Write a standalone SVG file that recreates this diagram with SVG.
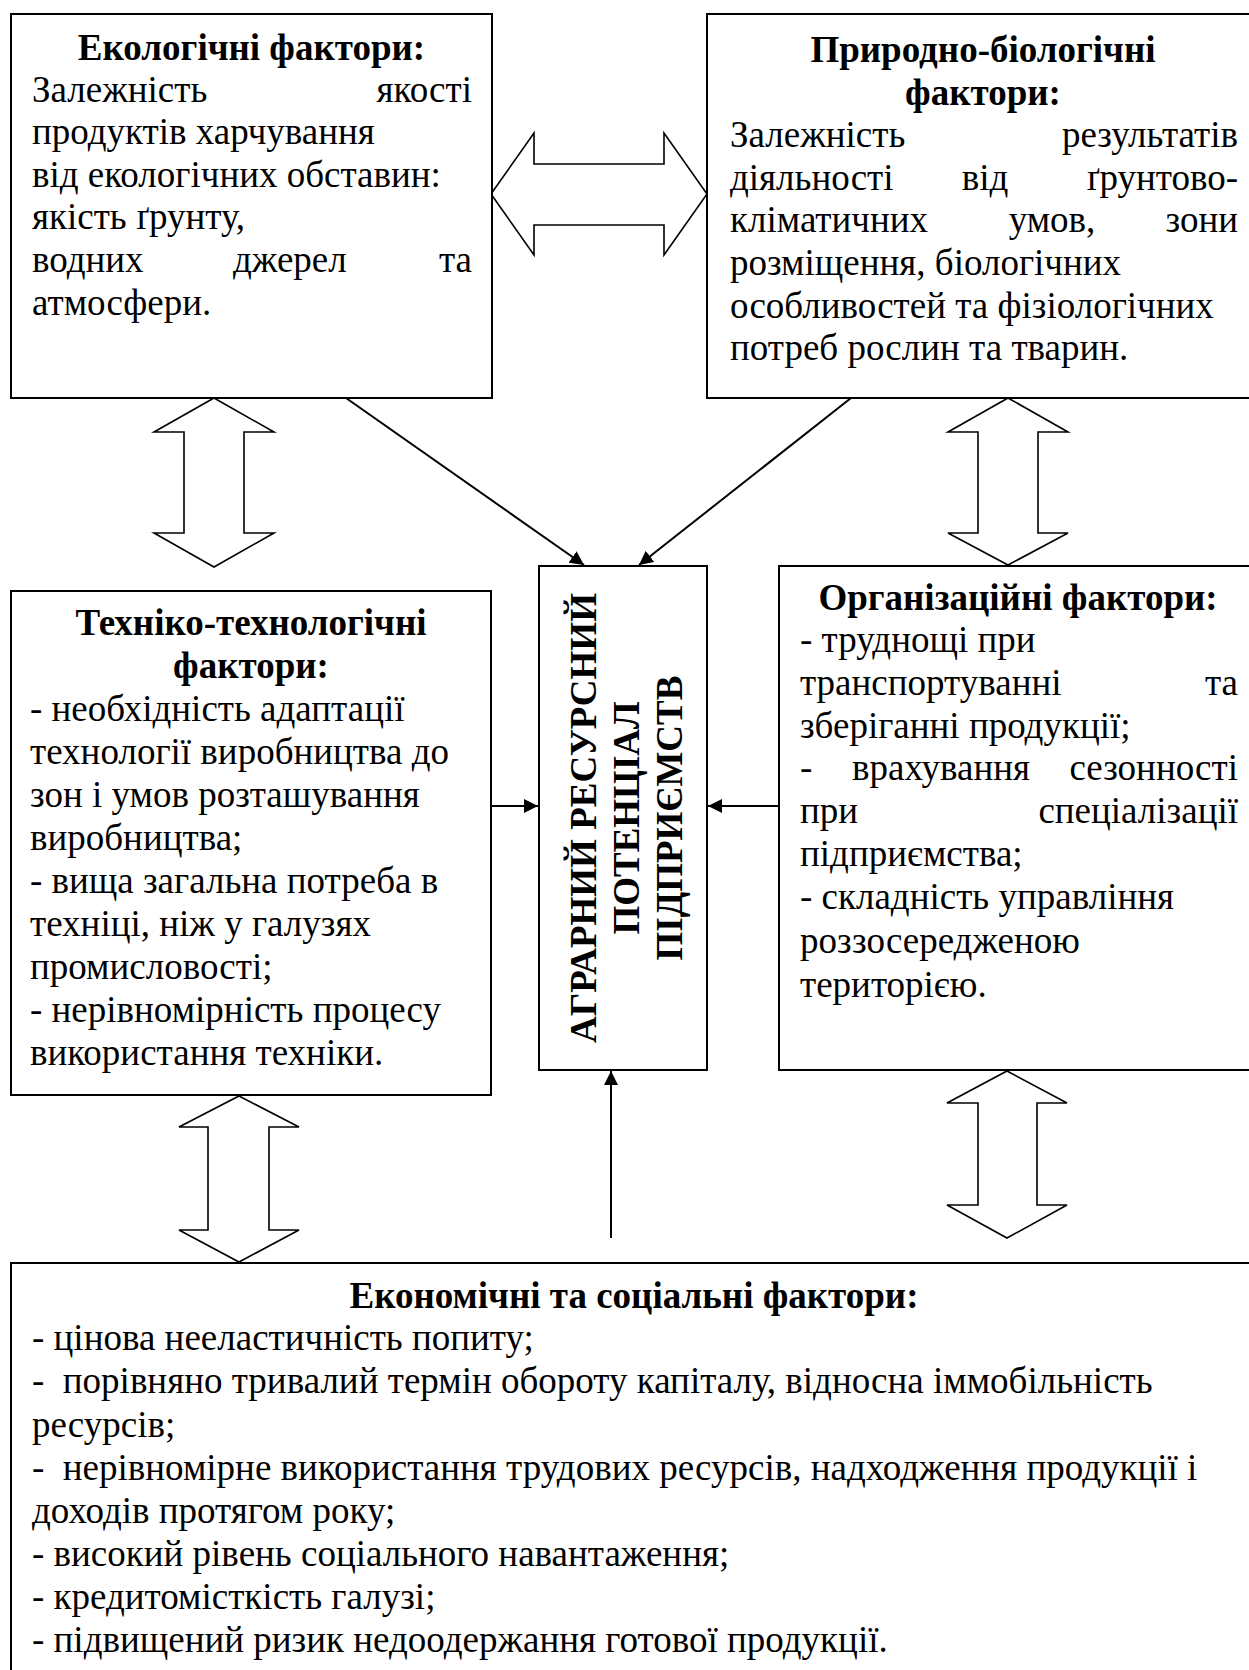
<svg xmlns="http://www.w3.org/2000/svg" width="1249" height="1670" viewBox="0 0 1249 1670">
<defs>
<style>
.box{fill:#fff;stroke:#000;stroke-width:2}
.blk{fill:#fff;stroke:#000;stroke-width:1.6;stroke-linejoin:miter}
.ln{fill:none;stroke:#000;stroke-width:2}
text{font-family:"Liberation Serif","Times New Roman",serif;font-size:37px;fill:#000}
.t{font-weight:bold;text-anchor:middle}
.e{text-anchor:end}
.m{text-anchor:middle}
.c{font-weight:bold;text-anchor:middle}
</style>
<marker id="ah" viewBox="0 0 14 14" refX="14" refY="7" markerWidth="14" markerHeight="14" markerUnits="userSpaceOnUse" orient="auto">
<path d="M0,0 L14,7 L0,14 z" fill="#000"/>
</marker>
</defs>
<rect width="1249" height="1670" fill="#fff"/>

<g id="connectors">
<polygon class="blk" points="491,194 534,133 534,164 664,164 664,133 707,194 664,255 664,225 534,225 534,255"/>
<polygon class="blk" points="214,398 274,432 244,432 244,533 274,533 214,567 154,533 184,533 184,432 154,432"/>
<polygon class="blk" points="1008,398 1068,432 1038,432 1038,533 1068,533 1008,565 948,533 978,533 978,432 948,432"/>
<polygon class="blk" points="239,1096 299,1127 269,1127 269,1230 299,1230 239,1262 179,1230 208,1230 208,1127 179,1127"/>
<polygon class="blk" points="1007,1071 1067,1103 1037,1103 1037,1205 1067,1205 1007,1238 947,1205 978,1205 978,1103 947,1103"/>
<line class="ln" x1="346" y1="398" x2="584" y2="565" marker-end="url(#ah)"/>
<line class="ln" x1="851" y1="398" x2="639" y2="565" marker-end="url(#ah)"/>
<line class="ln" x1="491" y1="806" x2="538" y2="806" marker-end="url(#ah)"/>
<line class="ln" x1="779" y1="806" x2="708" y2="806" marker-end="url(#ah)"/>
<line class="ln" x1="611" y1="1238" x2="611" y2="1071" marker-end="url(#ah)"/>
</g>

<g id="node-ecological">
<rect class="box" x="11" y="14" width="481" height="384"/>
<text class="t" x="251.5" y="60">Екологічні фактори:</text>
<text x="32" y="102">Залежність</text><text class="e" x="472" y="102">якості</text>
<text x="32" y="144">продуктів харчування</text>
<text x="32" y="187">від екологічних обставин:</text>
<text x="32" y="229">якість ґрунту,</text>
<text x="32" y="272">водних</text><text x="233" y="272">джерел</text><text class="e" x="472" y="272">та</text>
<text x="32" y="315">атмосфери.</text>
</g>

<g id="node-natural">
<rect class="box" x="707" y="14" width="552" height="384"/>
<text class="t" x="983" y="62">Природно-біологічні</text>
<text class="t" x="983" y="105">фактори:</text>
<text x="730" y="147">Залежність</text><text class="e" x="1238" y="147">результатів</text>
<text x="730" y="190">діяльності</text><text class="m" x="985" y="190">від</text><text class="e" x="1238" y="190">ґрунтово-</text>
<text x="730" y="232">кліматичних</text><text class="m" x="1052" y="232">умов,</text><text class="e" x="1238" y="232">зони</text>
<text x="730" y="275">розміщення, біологічних</text>
<text x="730" y="318">особливостей та фізіологічних</text>
<text x="730" y="360">потреб рослин та тварин.</text>
</g>

<g id="node-technical">
<rect class="box" x="11" y="591" width="480" height="504"/>
<text class="t" x="251" y="635">Техніко-технологічні</text>
<text class="t" x="251" y="678">фактори:</text>
<text x="30" y="721">- необхідність адаптації</text>
<text x="30" y="764">технології виробництва до</text>
<text x="30" y="807">зон і умов розташування</text>
<text x="30" y="850">виробництва;</text>
<text x="30" y="893">- вища загальна потреба в</text>
<text x="30" y="936">техніці, ніж у галузях</text>
<text x="30" y="979">промисловості;</text>
<text x="30" y="1022">- нерівномірність процесу</text>
<text x="30" y="1065">використання техніки.</text>
</g>

<g id="node-center">
<rect class="box" x="539" y="566" width="168" height="504"/>
<text class="c" transform="translate(596,818) rotate(-90)">АГРАРНИЙ РЕСУРСНИЙ</text>
<text class="c" transform="translate(639,818) rotate(-90)">ПОТЕНЦІАЛ</text>
<text class="c" transform="translate(682,818) rotate(-90)">ПІДПРИЄМСТВ</text>
</g>

<g id="node-organizational">
<rect class="box" x="779" y="566" width="480" height="504"/>
<text class="t" x="1018" y="610">Організаційні фактори:</text>
<text x="800" y="652">- труднощі при</text>
<text x="800" y="695">транспортуванні</text><text class="e" x="1238" y="695">та</text>
<text x="800" y="738">зберіганні продукції;</text>
<text x="800" y="780">-</text><text x="852" y="780">врахування</text><text class="e" x="1238" y="780">сезонності</text>
<text x="800" y="823">при</text><text class="e" x="1238" y="823">спеціалізації</text>
<text x="800" y="866">підприємства;</text>
<text x="800" y="909">- складність управління</text>
<text x="800" y="953">роззосередженою</text>
<text x="800" y="997">територією.</text>
</g>

<g id="node-economic">
<rect class="box" x="11" y="1263" width="1250" height="420"/>
<text class="t" x="634" y="1308">Економічні та соціальні фактори:</text>
<text x="32" y="1350">- цінова нееластичність попиту;</text>
<text x="32" y="1393" style="white-space:pre">-  порівняно тривалий термін обороту капіталу, відносна іммобільність</text>
<text x="32" y="1437">ресурсів;</text>
<text x="32" y="1480" style="white-space:pre">-  нерівномірне використання трудових ресурсів, надходження продукції і</text>
<text x="32" y="1523">доходів протягом року;</text>
<text x="32" y="1566">- високий рівень соціального навантаження;</text>
<text x="32" y="1609">- кредитомісткість галузі;</text>
<text x="32" y="1652">- підвищений ризик недоодержання готової продукції.</text>
</g>
</svg>
